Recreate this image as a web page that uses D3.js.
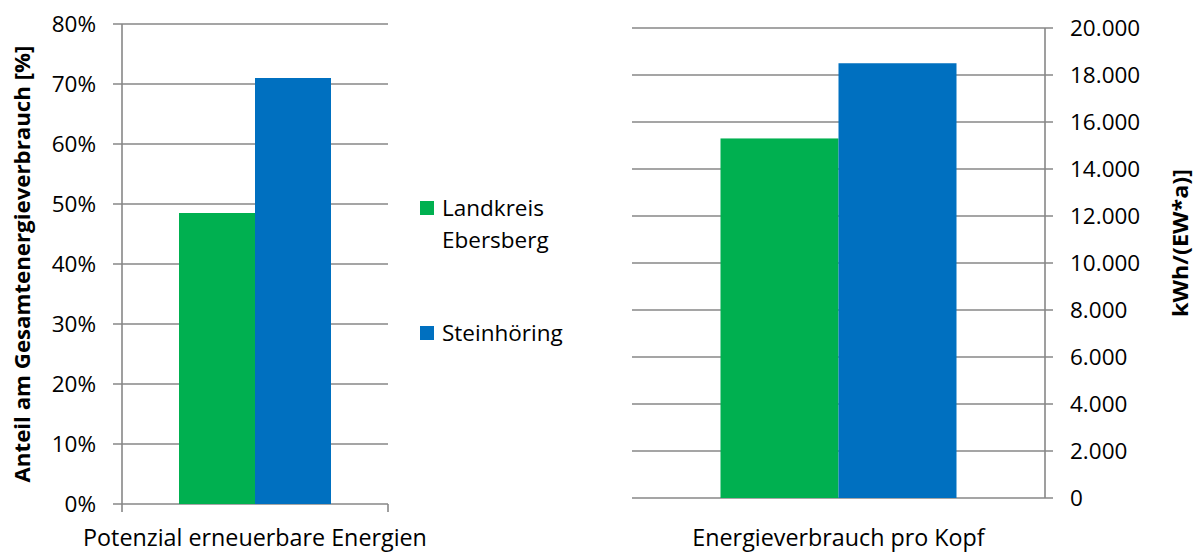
<!DOCTYPE html>
<html>
<head>
<meta charset="utf-8">
<script src="https://cdn.jsdelivr.net/npm/d3@7"></script>
<style>
  html, body { margin: 0; padding: 0; background: #fff; }
  svg { display: block; font-family: "Open Sans", "Noto Sans", sans-serif; }
</style>
</head>
<body>
<svg id="chart" width="1201" height="552"></svg>
<script>
// ---- data ----
const seriesNames = ["Landkreis Ebersberg", "Steinhöring"];
const legendLines = [["Landkreis", "Ebersberg"], ["Steinhöring"]];
const leftCategories = ["Potenzial erneuerbare Energien"];
const rightCategories = ["Energieverbrauch pro Kopf"];
const shareValues = [48.5, 71.0];          // % of total energy consumption
const perCapitaValues = [15300, 18500];     // kWh/(EW*a)
const shareTicks = [0, 10, 20, 30, 40, 50, 60, 70, 80];
const perCapitaTicks = [0, 2000, 4000, 6000, 8000, 10000, 12000, 14000, 16000, 18000, 20000];
const leftAxisTitle = "Anteil am Gesamtenergieverbrauch [%]";
const rightAxisTitle = "kWh/(EW*a)]";

// ---- style ----
const colors = ["#00B050", "#0070C0"];
const gridColor = "#878787";
const textColor = "#000";

const svg = d3.select("#chart");
const de = d3.formatLocale({decimal: ",", thousands: ".", grouping: [3], currency: ["", " €"]});
const fmtThousands = de.format(",");

// ---------- LEFT CHART ----------
{
  const x0 = 122, x1 = 388, yTop = 24, yBot = 504;
  const y = d3.scaleLinear().domain([0, 80]).range([yBot, yTop]);
  const xb = d3.scaleBand().domain(leftCategories).range([x0, x1]);
  const xs = d3.scaleBand().domain(seriesNames).range([0, xb.bandwidth()]).paddingOuter(0.75).paddingInner(0);

  const g = svg.append("g");
  g.selectAll("line.grid").data(shareTicks).join("line")
    .attr("x1", x0 - 9).attr("x2", x1)
    .attr("y1", d => y(d)).attr("y2", d => y(d))
    .attr("stroke", gridColor).attr("stroke-width", 1.6);
  leftCategories.forEach(cat => {
    g.selectAll("rect.bar").data(shareValues).join("rect")
      .attr("x", (d, i) => xb(cat) + xs(seriesNames[i]))
      .attr("width", xs.bandwidth())
      .attr("y", d => y(d))
      .attr("height", d => y(0) - y(d))
      .attr("fill", (d, i) => colors[i]);
  });
  g.append("line").attr("x1", x0).attr("x2", x0).attr("y1", yTop).attr("y2", yBot + 8)
    .attr("stroke", gridColor).attr("stroke-width", 1.6);
  g.append("line").attr("x1", x1).attr("x2", x1).attr("y1", yBot).attr("y2", yBot + 8)
    .attr("stroke", gridColor).attr("stroke-width", 1.6);
  g.selectAll("text.tick").data(shareTicks).join("text")
    .attr("x", 96).attr("y", d => y(d))
    .attr("dy", "0.36em")
    .attr("text-anchor", "end")
    .attr("font-size", 22.5).attr("fill", textColor)
    .text(d => d + "%");
  g.selectAll("text.cat").data(leftCategories).join("text")
    .attr("x", d => xb(d) + xb.bandwidth() / 2).attr("y", 546)
    .attr("text-anchor", "middle").attr("font-size", 23.3).attr("fill", textColor)
    .text(d => d);
  g.append("text")
    .attr("transform", `translate(30, 264) rotate(-90)`)
    .attr("text-anchor", "middle").attr("font-size", 21).attr("font-weight", "bold")
    .attr("textLength", 437).attr("lengthAdjust", "spacingAndGlyphs")
    .attr("fill", textColor)
    .text(leftAxisTitle);
}

// ---------- LEGEND ----------
{
  const g = svg.append("g");
  const entryY = [201, 326];
  seriesNames.forEach((s, i) => {
    g.append("rect").attr("x", 420).attr("y", entryY[i]).attr("width", 14).attr("height", 14)
      .attr("fill", colors[i]);
    legendLines[i].forEach((line, j) => {
      g.append("text").attr("x", 442).attr("y", entryY[i] + 15 + j * 32)
        .attr("font-size", 22.5).attr("fill", textColor).text(line);
    });
  });
}

// ---------- RIGHT CHART ----------
{
  const x0 = 632, x1 = 1045, yTop = 28, yBot = 498;
  const y = d3.scaleLinear().domain([0, 20000]).range([yBot, yTop]);
  const xb = d3.scaleBand().domain(rightCategories).range([x0, x1]);
  const xs = d3.scaleBand().domain(seriesNames).range([0, xb.bandwidth()]).paddingOuter(0.75).paddingInner(0);

  const g = svg.append("g");
  g.selectAll("line.grid").data(perCapitaTicks).join("line")
    .attr("x1", x0).attr("x2", x1 + 8)
    .attr("y1", d => y(d)).attr("y2", d => y(d))
    .attr("stroke", gridColor).attr("stroke-width", 1.6);
  rightCategories.forEach(cat => {
    g.selectAll("rect.bar").data(perCapitaValues).join("rect")
      .attr("x", (d, i) => xb(cat) + xs(seriesNames[i]))
      .attr("width", xs.bandwidth())
      .attr("y", d => y(d))
      .attr("height", d => y(0) - y(d))
      .attr("fill", (d, i) => colors[i]);
  });
  g.append("line").attr("x1", x1).attr("x2", x1).attr("y1", yTop).attr("y2", yBot)
    .attr("stroke", gridColor).attr("stroke-width", 1.6);
  g.selectAll("text.tick").data(perCapitaTicks).join("text")
    .attr("x", 1070).attr("y", d => y(d))
    .attr("dy", "0.36em")
    .attr("text-anchor", "start")
    .attr("font-size", 22.5).attr("fill", textColor)
    .text(d => fmtThousands(d));
  g.selectAll("text.cat").data(rightCategories).join("text")
    .attr("x", d => xb(d) + xb.bandwidth() / 2).attr("y", 546)
    .attr("text-anchor", "middle").attr("font-size", 23.3).attr("fill", textColor)
    .text(d => d);
  g.append("text")
    .attr("transform", `translate(1188, 243) rotate(-90)`)
    .attr("text-anchor", "middle").attr("font-size", 21).attr("font-weight", "bold")
    .attr("textLength", 148).attr("lengthAdjust", "spacingAndGlyphs")
    .attr("fill", textColor)
    .text(rightAxisTitle);
}
</script>
</body>
</html>
